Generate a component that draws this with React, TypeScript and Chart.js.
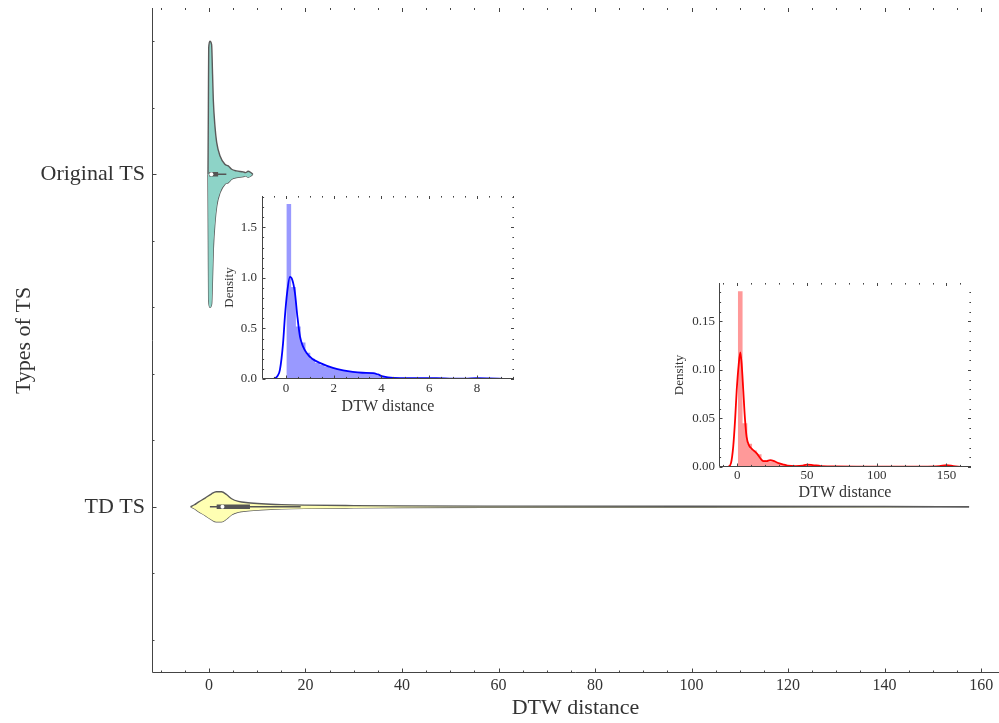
import { useEffect, useRef } from 'react';
import { Chart, registerables } from 'chart.js';

Chart.register(...registerables);

const FONT = "'Liberation Serif', 'Times New Roman', serif";
const TEXT = '#333333';
const AXIS = '#444444';
const VIOLIN_EDGE = '#5a5a5a';
const BOX = '#555555';

// ---------- main chart data ----------
const CATEGORIES = ['Original TS', 'TD TS'];
const MAIN_X_TICKS = [0, 20, 40, 60, 80, 100, 120, 140, 160];
const MAIN_Y_TICKS = [0, 1];
const MAIN_Y_MINOR = [-0.4, -0.2, 0.2, 0.4, 0.6, 0.8, 1.2, 1.4];

// violin outline: value along x, half-width in category units
const ORIG_VIOLIN_VALUE = [-0.2, -0.12, -0.05, 0.2, 0.55, 0.75, 0.9, 1.24, 1.6, 2.3, 3.3, 4.0, 4.7, 5.7, 7.1, 7.6, 8.1, 8.6, 9.1];
const ORIG_VIOLIN_HALFWIDTH = [0, 0.2, 0.38, 0.4, 0.39, 0.3, 0.225, 0.145, 0.096, 0.055, 0.03, 0.025, 0.015, 0.01, 0.007, 0.005, 0.009, 0.006, 0];
const ORIG_BOX_STATS = [0.0, 0.06, 0.5, 1.9, 3.6]; // whisker low, q1, median, q3, whisker high

const TD_VIOLIN_VALUE = [-3.8, -3.0, -2.2, -0.8, 0.55, 1.5, 2.6, 3.7, 4.7, 6.1, 8.1, 10.9, 15, 20, 30, 40, 60, 100, 140, 157.5];
const TD_VIOLIN_HALFWIDTH = [0, 0.006, 0.014, 0.026, 0.039, 0.045, 0.045, 0.036, 0.024, 0.016, 0.012, 0.009, 0.0065, 0.005, 0.0035, 0.0025, 0.0018, 0.0014, 0.0012, 0];
const TD_BOX_STATS = [0.2, 1.6, 2.8, 8.5, 19];

// ---------- inset 1 (Original TS) ----------
const ORIG_BIN_WIDTH = 0.2;
const ORIG_BIN_CENTERS = [0.12, 0.32, 0.52, 0.72, 0.92, 1.12, 1.32, 1.52, 1.72, 1.92, 2.12, 2.32, 2.52, 2.72, 2.92, 3.12, 3.32, 3.52, 3.72, 3.92, 4.12, 4.32, 4.52, 4.72, 4.92, 5.12, 5.32, 5.52, 5.72, 5.92, 6.12, 6.32, 6.52, 6.72, 6.92, 7.12, 7.32, 7.52, 7.72, 7.92, 8.12, 8.32, 8.52, 8.72, 8.92];
const ORIG_BIN_DENSITY = [1.73, 0.91, 0.52, 0.36, 0.26, 0.2, 0.16, 0.14, 0.12, 0.11, 0.1, 0.09, 0.08, 0.075, 0.07, 0.065, 0.06, 0.06, 0.05, 0.035, 0.02, 0.012, 0.01, 0.008, 0.01, 0.006, 0.008, 0.01, 0.006, 0.004, 0.008, 0.006, 0.004, 0.002, 0.004, 0.006, 0.004, 0.008, 0.01, 0.006, 0.004, 0.006, 0.008, 0.004, 0.002];
const ORIG_KDE_X = [-0.53, -0.35, -0.25, -0.12, -0.04, 0.05, 0.17, 0.27, 0.38, 0.48, 0.59, 0.72, 0.86, 1.1, 1.42, 1.97, 2.4, 2.8, 3.2, 3.65, 3.85, 4.06, 4.5, 5.2, 6.3, 7.0, 7.5, 8.0, 8.5, 9.1];
const ORIG_KDE_Y = [0, 0.03, 0.09, 0.35, 0.62, 0.85, 1.01, 0.98, 0.85, 0.62, 0.42, 0.32, 0.26, 0.2, 0.16, 0.11, 0.085, 0.07, 0.062, 0.058, 0.045, 0.025, 0.01, 0.008, 0.008, 0.004, 0.004, 0.008, 0.006, 0.002];
const INSET1_X_TICKS = [0, 2, 4, 6, 8];
const INSET1_Y_TICKS = [0, 0.5, 1.0, 1.5];

// ---------- inset 2 (TD TS) ----------
const TD_BIN_WIDTH = 3.4;
const TD_BIN_CENTERS = [2.1, 5.5, 8.9, 12.3, 15.7, 19.1, 22.5, 25.9, 29.3, 32.7, 36.1, 39.5, 42.9, 46.3, 49.7, 53.1, 56.5, 59.9, 63.3, 66.7, 70.1, 73.5, 76.9, 80.3, 83.7, 87.1, 90.5, 93.9, 97.3, 100.7, 104.1, 107.5, 110.9, 114.3, 117.7, 121.1, 124.5, 127.9, 131.3, 134.7, 138.1, 141.5, 144.9, 148.3, 151.7];
const TD_BIN_DENSITY = [0.181, 0.045, 0.024, 0.017, 0.013, 0.007, 0.006, 0.006, 0.004, 0.003, 0.002, 0.0015, 0.001, 0.0015, 0.0025, 0.002, 0.0015, 0.001, 0.0008, 0.0006, 0.0005, 0.0006, 0.0004, 0.0005, 0.0004, 0.0003, 0.0005, 0.0004, 0.0003, 0.0004, 0.0003, 0.0005, 0.0004, 0.0003, 0.0002, 0.0003, 0.0004, 0.0003, 0.0002, 0.0003, 0.0004, 0.0005, 0.0008, 0.0015, 0.002];
const TD_KDE_X = [-6.5, -4.5, -2.9, -1.5, -0.4, 1, 2.2, 3.2, 4.3, 5.5, 6.7, 8.5, 10.3, 12.5, 14, 16.5, 18.7, 21, 23.5, 26.5, 29.5, 33, 36, 42, 47, 50, 54, 60, 70, 90, 110, 130, 145, 150, 155, 160];
const TD_KDE_Y = [0, 0.004, 0.021, 0.05, 0.079, 0.105, 0.118, 0.105, 0.079, 0.05, 0.031, 0.022, 0.019, 0.016, 0.014, 0.009, 0.006, 0.006, 0.007, 0.006, 0.004, 0.0025, 0.0015, 0.001, 0.0015, 0.0025, 0.002, 0.001, 0.0005, 0.0004, 0.0003, 0.0004, 0.001, 0.002, 0.001, 0.0001];
const INSET2_X_TICKS = [0, 50, 100, 150];
const INSET2_Y_TICKS = [0, 0.05, 0.1, 0.15];

function steps(from: number, to: number, step: number): number[] {
  const out: number[] = [];
  const n = Math.round((to - from) / step);
  for (let i = 0; i <= n; i++) out.push(+(from + i * step).toFixed(6));
  return out;
}

function zeroPad(s: any) {
  s.paddingTop = 0;
  s.paddingBottom = 0;
  s.paddingLeft = 0;
  s.paddingRight = 0;
}

type TickCfg = {
  xMajor: number[]; xMinor: number[]; yMajor: number[]; yMinor: number[];
  majorLen: number; minorLen: number; top: boolean; right: boolean;
};

function frameTicks(cfg: TickCfg) {
  return {
    id: 'frameTicks',
    afterDatasetsDraw(chart: any) {
      const { ctx, chartArea: a } = chart;
      const xs = chart.scales.x;
      const ys = chart.scales.y;
      const L = Math.round(a.left) + 0.5;
      const B = Math.round(a.bottom) - 0.5;
      const T = Math.round(a.top) + 0.5;
      const R = Math.round(a.right) - 0.5;
      ctx.save();
      ctx.strokeStyle = AXIS;
      ctx.lineWidth = 1;
      ctx.beginPath();
      ctx.moveTo(L, T - 0.5);
      ctx.lineTo(L, B);
      ctx.lineTo(R + 0.5, B);
      ctx.stroke();
      ctx.beginPath();
      const xt = (v: number, len: number) => {
        const p = Math.round(xs.getPixelForValue(v)) + 0.5;
        ctx.moveTo(p, B);
        ctx.lineTo(p, B - len);
        if (cfg.top) {
          ctx.moveTo(p, T - 0.5);
          ctx.lineTo(p, T - 0.5 + len);
        }
      };
      const yt = (v: number, len: number) => {
        const p = Math.round(ys.getPixelForValue(v)) + 0.5;
        ctx.moveTo(L, p);
        ctx.lineTo(L + len, p);
        if (cfg.right) {
          ctx.moveTo(R + 0.5, p);
          ctx.lineTo(R + 0.5 - len, p);
        }
      };
      cfg.xMajor.forEach((v) => xt(v, cfg.majorLen));
      cfg.xMinor.forEach((v) => xt(v, cfg.minorLen));
      cfg.yMajor.forEach((v) => yt(v, cfg.majorLen));
      cfg.yMinor.forEach((v) => yt(v, cfg.minorLen));
      ctx.stroke();
      ctx.restore();
    },
  };
}

function violinDatasets(values: number[], halfwidths: number[], pos: number, fillColor: string) {
  const common = {
    type: 'line',
    borderColor: VIOLIN_EDGE,
    borderWidth: 1.4,
    pointRadius: 0,
    cubicInterpolationMode: 'monotone',
    order: 3,
  };
  return [
    { ...common, data: values.map((v, i) => ({ x: v, y: pos - halfwidths[i] })), fill: '+1', backgroundColor: fillColor },
    { ...common, data: values.map((v, i) => ({ x: v, y: pos + halfwidths[i] })), fill: false },
  ];
}

function boxDatasets(stats: number[], pos: number) {
  const [wLo, q1, med, q3, wHi] = stats;
  return [
    { type: 'line', data: [{ x: med, y: pos }], showLine: false, pointRadius: 2, pointBackgroundColor: '#ffffff', pointBorderWidth: 0, order: 0 },
    { type: 'line', data: [{ x: q1, y: pos }, { x: q3, y: pos }], borderColor: BOX, borderWidth: 4.5, pointRadius: 0, order: 1, borderCapStyle: 'butt' },
    { type: 'line', data: [{ x: wLo, y: pos }, { x: wHi, y: pos }], borderColor: BOX, borderWidth: 1.5, pointRadius: 0, order: 2 },
  ];
}

function mainConfig(): any {
  const datasets = [
    ...boxDatasets(ORIG_BOX_STATS, 0),
    ...boxDatasets(TD_BOX_STATS, 1),
    ...violinDatasets(ORIG_VIOLIN_VALUE, ORIG_VIOLIN_HALFWIDTH, 0, '#8dd3c7'),
    ...violinDatasets(TD_VIOLIN_VALUE, TD_VIOLIN_HALFWIDTH, 1, '#ffffb3'),
  ];
  return {
    type: 'line',
    data: { datasets },
    options: {
      animation: false,
      responsive: false,
      layout: { autoPadding: false, padding: { top: 8, right: 0, left: 0, bottom: 0 } },
      plugins: { legend: { display: false }, tooltip: { enabled: false } },
      scales: {
        x: {
          type: 'linear',
          min: -11.8,
          max: 163.7,
          afterBuildTicks: (s: any) => { s.ticks = MAIN_X_TICKS.map((v) => ({ value: v })); },
          afterFit: (s: any) => { s.height = 50; zeroPad(s); },
          grid: { display: false, drawTicks: false },
          border: { display: false },
          ticks: { autoSkip: false, maxRotation: 0, padding: 3.4, color: TEXT, font: { family: FONT, size: 16 } },
          title: { display: true, text: 'DTW distance', color: TEXT, font: { family: FONT, size: 22 }, padding: { top: 0, bottom: 1.8 } },
        },
        y: {
          type: 'linear',
          reverse: true,
          min: -0.5,
          max: 1.5,
          afterBuildTicks: (s: any) => { s.ticks = MAIN_Y_TICKS.map((v) => ({ value: v })); },
          afterFit: (s: any) => { s.width = 152; zeroPad(s); },
          grid: { display: false, drawTicks: false },
          border: { display: false },
          ticks: {
            autoSkip: false,
            padding: 7,
            color: TEXT,
            font: { family: FONT, size: 22 },
            callback: (v: any) => CATEGORIES[Math.round(Number(v))] ?? '',
          },
          title: { display: true, text: 'Types of TS', color: TEXT, font: { family: FONT, size: 22 }, padding: { top: 10.8, bottom: 0 } },
        },
      },
    },
    plugins: [
      frameTicks({
        xMajor: MAIN_X_TICKS,
        xMinor: steps(-10, 160, 5).filter((v) => v % 20 !== 0),
        yMajor: MAIN_Y_TICKS,
        yMinor: MAIN_Y_MINOR,
        majorLen: 4,
        minorLen: 2,
        top: true,
        right: false,
      }),
    ],
  };
}

type InsetCfg = {
  centers: number[]; heights: number[]; binWidth: number; kdeX: number[]; kdeY: number[];
  line: string; bar: string;
  xMin: number; xMax: number; yMax: number;
  xTicks: number[]; yTicks: number[]; xMinor: number[]; yMinor: number[];
  yDecimals: number;
  yScaleWidth: number; xScaleHeight: number; padTop: number; padRight: number;
  yTitlePad: number; xTitlePad: number; yTickPad: number; xTickPad: number;
};

function histogramPoints(centers: number[], heights: number[], w: number) {
  const n = centers.length;
  return [
    { x: centers[0] - w / 2, y: heights[0] },
    ...centers.map((c, i) => ({ x: c, y: heights[i] })),
    { x: centers[n - 1] + w / 2, y: heights[n - 1] },
  ];
}

function insetConfig(c: InsetCfg): any {
  return {
    type: 'line',
    data: {
      datasets: [
        {
          type: 'line',
          data: c.kdeX.map((v, i) => ({ x: v, y: c.kdeY[i] })),
          borderColor: c.line,
          borderWidth: 1.8,
          pointRadius: 0,
          cubicInterpolationMode: 'monotone',
          fill: false,
          order: 0,
        },
        {
          type: 'line',
          data: histogramPoints(c.centers, c.heights, c.binWidth),
          stepped: 'middle',
          borderWidth: 0,
          borderColor: 'rgba(0,0,0,0)',
          backgroundColor: c.bar,
          fill: 'origin',
          pointRadius: 0,
          order: 1,
        },
      ],
    },
    options: {
      animation: false,
      responsive: false,
      layout: { autoPadding: false, padding: { top: c.padTop, right: c.padRight, left: 0, bottom: 0 } },
      plugins: { legend: { display: false }, tooltip: { enabled: false } },
      scales: {
        x: {
          type: 'linear',
          min: c.xMin,
          max: c.xMax,
          afterBuildTicks: (s: any) => { s.ticks = c.xTicks.map((v) => ({ value: v })); },
          afterFit: (s: any) => { s.height = c.xScaleHeight; zeroPad(s); },
          grid: { display: false, drawTicks: false },
          border: { display: false },
          ticks: { autoSkip: false, maxRotation: 0, padding: c.xTickPad, color: TEXT, font: { family: FONT, size: 13 } },
          title: { display: true, text: 'DTW distance', color: TEXT, font: { family: FONT, size: 16 }, padding: { top: 0, bottom: c.xTitlePad } },
        },
        y: {
          type: 'linear',
          min: 0,
          max: c.yMax,
          afterBuildTicks: (s: any) => { s.ticks = c.yTicks.map((v) => ({ value: v })); },
          afterFit: (s: any) => { s.width = c.yScaleWidth; zeroPad(s); },
          grid: { display: false, drawTicks: false },
          border: { display: false },
          ticks: {
            autoSkip: false,
            padding: c.yTickPad,
            color: TEXT,
            font: { family: FONT, size: 13 },
            callback: (v: any) => Number(v).toFixed(c.yDecimals),
          },
          title: { display: true, text: 'Density', color: TEXT, font: { family: FONT, size: 13 }, padding: { top: c.yTitlePad, bottom: 0 } },
        },
      },
    },
    plugins: [
      frameTicks({
        xMajor: c.xTicks,
        xMinor: c.xMinor,
        yMajor: c.yTicks,
        yMinor: c.yMinor,
        majorLen: 3,
        minorLen: 1.6,
        top: true,
        right: true,
      }),
    ],
  };
}

export default function App() {
  const mainRef = useRef<HTMLCanvasElement>(null);
  const in1Ref = useRef<HTMLCanvasElement>(null);
  const in2Ref = useRef<HTMLCanvasElement>(null);

  useEffect(() => {
    const charts: Chart[] = [];
    if (mainRef.current) charts.push(new Chart(mainRef.current, mainConfig()));
    if (in1Ref.current)
      charts.push(
        new Chart(
          in1Ref.current,
          insetConfig({
            centers: ORIG_BIN_CENTERS, heights: ORIG_BIN_DENSITY, binWidth: ORIG_BIN_WIDTH, kdeX: ORIG_KDE_X, kdeY: ORIG_KDE_Y,
            line: '#0000ff', bar: 'rgba(0,0,255,0.4)',
            xMin: -1.0, xMax: 9.55, yMax: 1.81,
            xTicks: INSET1_X_TICKS, yTicks: INSET1_Y_TICKS,
            xMinor: steps(-0.5, 9.5, 0.5).filter((v) => v % 2 !== 0),
            yMinor: steps(0.1, 1.8, 0.1).filter((v) => Math.round(v * 10) % 5 !== 0),
            yDecimals: 1,
            yScaleWidth: 66, xScaleHeight: 43, padTop: 10, padRight: 16,
            yTitlePad: 26, xTitlePad: 5.7, yTickPad: 5, xTickPad: 2.2,
          })
        )
      );
    if (in2Ref.current)
      charts.push(
        new Chart(
          in2Ref.current,
          insetConfig({
            centers: TD_BIN_CENTERS, heights: TD_BIN_DENSITY, binWidth: TD_BIN_WIDTH, kdeX: TD_KDE_X, kdeY: TD_KDE_Y,
            line: '#ff0000', bar: 'rgba(255,0,0,0.4)',
            xMin: -13.1, xMax: 167.6, yMax: 0.1894,
            xTicks: INSET2_X_TICKS, yTicks: INSET2_Y_TICKS,
            xMinor: steps(-10, 160, 10).filter((v) => v % 50 !== 0),
            yMinor: steps(0.01, 0.18, 0.01).filter((v) => Math.round(v * 100) % 5 !== 0),
            yDecimals: 2,
            yScaleWidth: 69, xScaleHeight: 36, padTop: 10, padRight: 19,
            yTitlePad: 21.5, xTitlePad: 0.7, yTickPad: 4, xTickPad: 1,
          })
        )
      );
    return () => charts.forEach((ch) => ch.destroy());
  }, []);

  return (
    <div style={{ position: 'fixed', left: 0, top: 0, width: 999, height: 723, background: '#ffffff' }}>
      <canvas ref={mainRef} width={999} height={723} style={{ position: 'absolute', left: 0, top: 0 }} />
      <canvas ref={in1Ref} width={334} height={236} style={{ position: 'absolute', left: 196, top: 186 }} />
      <canvas ref={in2Ref} width={340} height={230} style={{ position: 'absolute', left: 650, top: 273 }} />
    </div>
  );
}
